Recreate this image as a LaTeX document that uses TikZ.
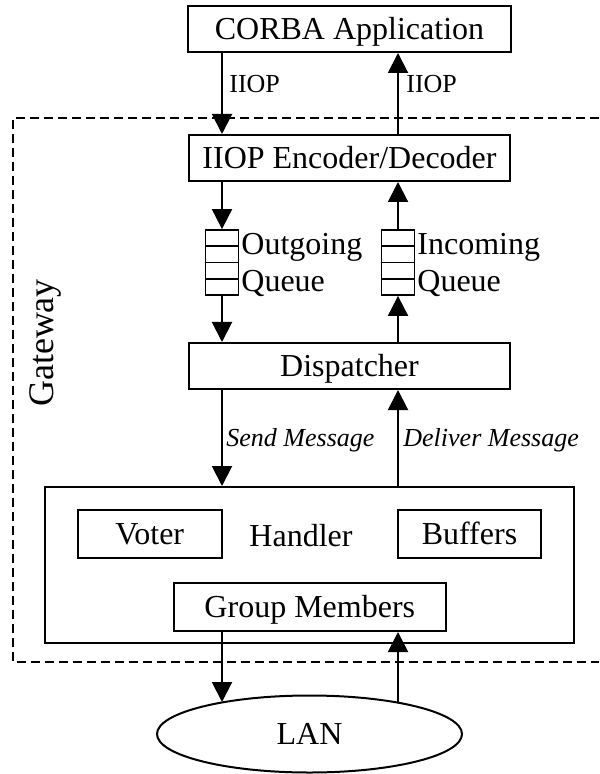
\documentclass[tikz,border=0pt]{standalone}
\usepackage{fontspec}
\setmainfont{Liberation Serif}
\usetikzlibrary{arrows.meta,shapes.geometric,calc}
\tikzset{
  mainfont/.style={font=\fontsize{16}{19}\selectfont},
  smallfont/.style={font=\fontsize{13}{15}\selectfont},
  box/.style={draw, line width=1pt, inner sep=0pt, mainfont,
              text height=10.6pt, text depth=0pt},
  queuebox/.style={draw, line width=0.9pt, inner sep=0pt,
              minimum width=16.5pt, minimum height=32.5pt},
  tag/.style={inner sep=0pt, anchor=base west},
  arr/.style={-{Triangle[length=10pt,width=10pt]}, line width=1pt},
  frame/.style={dashed, dash pattern=on 4.5pt off 2.5pt, line width=1pt},
}
\begin{document}
\begin{tikzpicture}[x=0.5pt,y=-0.5pt]
\useasboundingbox (0,0) rectangle (599,774);

% gateway boundary (open on the right)
\draw[frame] (599,118) -- (13,118) -- (13,662) -- (599,662);
\node[rotate=90, font=\fontsize{18}{21}\selectfont] (gwlabel) at (45,343) {Gateway};

% boxes
\node[box, minimum width=161.5pt, minimum height=23pt] (corba) at (349.5,29) {CORBA Application};
\node[box, minimum width=160.5pt, minimum height=23pt] (iiop) at (349.5,158) {IIOP Encoder/Decoder};
\node[box, minimum width=160.5pt, minimum height=23pt] (disp) at (349.5,366) {Dispatcher};
\node[box, minimum width=264.25pt, minimum height=78pt] (handler) at (309.25,565) {};
\node[box, draw=none] (handlerlabel) at (301,536) {Handler};
\node[box, minimum width=72.25pt, minimum height=24pt] (voter) at (149.75,534) {Voter};
\node[box, minimum width=71.5pt, minimum height=24pt] (buffers) at (469.5,534) {Buffers};
\node[box, minimum width=136.2pt, minimum height=24pt] (gm) at (309.8,607) {Group Members};
\node[draw, ellipse, line width=1pt, inner sep=0pt, mainfont,
      minimum width=152.5pt, minimum height=38.5pt] (lan) at (309.5,734) {LAN};

% queues
\node[queuebox] (outq) at (222,262.5) {};
\node[queuebox] (inq) at (398,262.5) {};
\foreach \q in {outq,inq}{
  \foreach \f in {0.25,0.5,0.75}{
    \draw[line width=0.9pt] ($(\q.north west)!\f!(\q.south west)$) -- ($(\q.north east)!\f!(\q.south east)$);
  }
}
\node[mainfont, tag] (outl1) at (241,255) {Outgoing};
\node[mainfont, tag] (outl2) at (241,292) {Queue};
\node[mainfont, tag] (inl1) at (417,255) {Incoming};
\node[mainfont, tag] (inl2) at (417,292) {Queue};

% points where the LAN links meet the ellipse
\coordinate (lanl) at (222,702);
\coordinate (lanr) at (398,702.2);

% connectors
\draw[arr] (corba.south -| outq) -- (iiop.north -| outq);
\draw[arr] (iiop.north -| inq) -- (corba.south -| inq);
\draw[arr] (iiop.south -| outq) -- (outq.north);
\draw[arr] (outq.south) -- (disp.north -| outq);
\draw[arr] (inq.north) -- (iiop.south -| inq);
\draw[arr] (disp.north -| inq) -- (inq.south);
\draw[arr] (disp.south -| outq) -- (handler.north -| outq);
\draw[arr] (handler.north -| inq) -- (disp.south -| inq);
\draw[arr] (gm.south -| outq) -- (lanl);
\draw[arr] (lanr) -- (gm.south -| inq);

% connector labels
\node[smallfont, tag] (iiopl) at (229,93) {IIOP};
\node[smallfont, tag] (iiopr) at (406,93) {IIOP};
\node[tag, font=\fontsize{13}{15}\selectfont\itshape] (sendl) at (226,446) {Send Message};
\node[tag, font=\fontsize{13}{15}\selectfont\itshape] (deliverl) at (403,446) {Deliver Message};
\end{tikzpicture}
\end{document}
